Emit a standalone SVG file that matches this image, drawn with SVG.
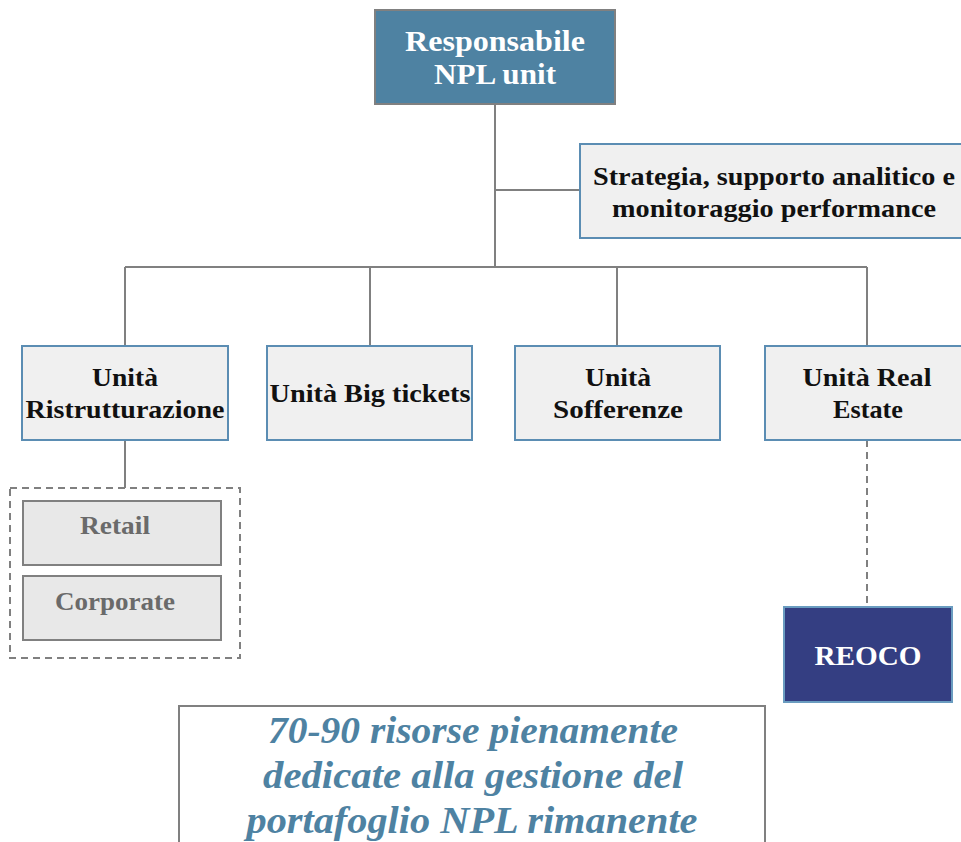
<svg xmlns="http://www.w3.org/2000/svg" width="961" height="842" viewBox="0 0 961 842">
<style>
text{font-family:"Liberation Serif","Times New Roman",serif;font-weight:bold;text-anchor:middle}
.unit{fill:#f0f0f0;stroke:#5b8db3;stroke-width:2}
.sub{fill:#e8e8e8;stroke:#808080;stroke-width:2}
.t{font-size:25px;fill:#111}
.g{font-size:25px;fill:#6a6a6a}
.w{fill:#fff}
.i{font-size:37px;font-style:italic;fill:#4e82a2}
.c{stroke:#808080;stroke-width:2;fill:none}
.d{stroke:#808080;stroke-width:2;fill:none;stroke-dasharray:7,5}
</style>
<g id="connectors">
<path class="c" d="M495 104V267M495 190H580M125 267H867M125 267V346M370 267V346M617 267V346M867 267V346M125 440V488"/>
<path class="d" d="M867 440V606"/>
</g>
<g id="responsabile">
<rect x="375" y="10" width="240" height="94" fill="#4e82a2" stroke="#808080" stroke-width="2"/>
<text class="w" x="495" y="51" font-size="29" textLength="180" lengthAdjust="spacingAndGlyphs">Responsabile</text>
<text class="w" x="495" y="84" font-size="29" textLength="122" lengthAdjust="spacingAndGlyphs">NPL unit</text>
</g>
<g id="strategia">
<rect class="unit" x="580" y="144" width="390" height="94"/>
<text class="t" x="774" y="185" textLength="362" lengthAdjust="spacingAndGlyphs">Strategia, supporto analitico e</text>
<text class="t" x="774" y="217" textLength="324" lengthAdjust="spacingAndGlyphs">monitoraggio performance</text>
</g>
<g id="ristrutturazione">
<rect class="unit" x="22" y="346" width="206" height="94"/>
<text class="t" x="125" y="386" textLength="66" lengthAdjust="spacingAndGlyphs">Unità</text>
<text class="t" x="125" y="418" textLength="199" lengthAdjust="spacingAndGlyphs">Ristrutturazione</text>
</g>
<g id="bigtickets">
<rect class="unit" x="267" y="346" width="205" height="94"/>
<text class="t" x="370" y="402" textLength="201" lengthAdjust="spacingAndGlyphs">Unità Big tickets</text>
</g>
<g id="sofferenze">
<rect class="unit" x="515" y="346" width="205" height="94"/>
<text class="t" x="618" y="386" textLength="66" lengthAdjust="spacingAndGlyphs">Unità</text>
<text class="t" x="618" y="418" textLength="130" lengthAdjust="spacingAndGlyphs">Sofferenze</text>
</g>
<g id="realestate">
<rect class="unit" x="765" y="346" width="205" height="94"/>
<text class="t" x="867" y="386" textLength="129" lengthAdjust="spacingAndGlyphs">Unità Real</text>
<text class="t" x="868" y="418" textLength="70" lengthAdjust="spacingAndGlyphs">Estate</text>
</g>
<g id="gruppo">
<rect class="d" x="10" y="488" width="230" height="170"/>
</g>
<g id="retail">
<rect class="sub" x="23" y="501" width="198" height="64"/>
<text class="g" x="115" y="534" textLength="70" lengthAdjust="spacingAndGlyphs">Retail</text>
</g>
<g id="corporate">
<rect class="sub" x="23" y="576" width="198" height="64"/>
<text class="g" x="115" y="610" textLength="120" lengthAdjust="spacingAndGlyphs">Corporate</text>
</g>
<g id="reoco">
<rect x="784" y="607" width="168" height="95" fill="#343e82" stroke="#6a9cc0" stroke-width="2"/>
<text class="w" x="868" y="665" font-size="27" textLength="107" lengthAdjust="spacingAndGlyphs">REOCO</text>
</g>
<g id="risorse">
<rect x="179" y="706" width="586" height="150" fill="#fff" stroke="#808080" stroke-width="2"/>
<text class="i" x="473" y="743" textLength="410" lengthAdjust="spacingAndGlyphs">70-90 risorse pienamente</text>
<text class="i" x="473" y="788" textLength="420" lengthAdjust="spacingAndGlyphs">dedicate alla gestione del</text>
<text class="i" x="472" y="833" textLength="451" lengthAdjust="spacingAndGlyphs">portafoglio NPL rimanente</text>
</g>
</svg>
